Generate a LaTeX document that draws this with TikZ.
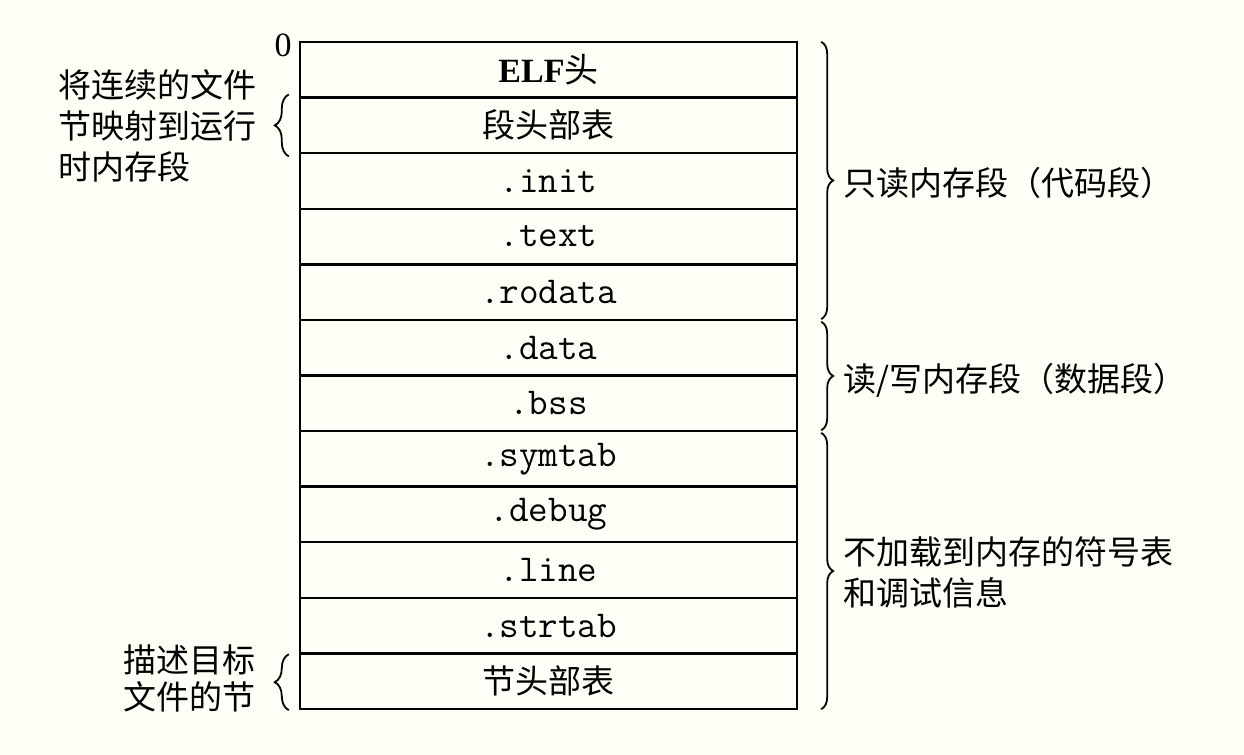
\documentclass[tikz,border=0pt]{standalone}
\usepackage{fontspec}
\newfontfamily\tms{Liberation Serif}
\newfontfamily\cjk{Noto Sans CJK SC}
\usetikzlibrary{decorations.pathreplacing}
\definecolor{bg}{RGB}{255,254,247}
\begin{document}
\begin{tikzpicture}[x=0.5pt,y=-0.5pt,
  rowbox/.style={draw, line width=1.2pt, minimum width=248.5pt, minimum height=27.79pt, inner sep=0pt, anchor=center},
  cn/.style={font=\cjk\fontsize{16.5}{20.5}\selectfont},
  mono/.style={font=\ttfamily\fontsize{19}{20}\selectfont},
  rbrace/.style={decorate, decoration={brace, amplitude=6pt}, line width=0.9pt},
  lbrace/.style={decorate, decoration={brace, amplitude=7pt}, line width=0.9pt},
  lbl/.style={cn, inner sep=0pt, align=left}]
\fill[bg] (0,0) rectangle (1244,755);
\useasboundingbox (0,0) rectangle (1244,755);
\def\rh{55.58}
\node[rowbox,font=\tms\fontsize{17}{20}\selectfont] (r1) at (548.5,{42+\rh*0.5}) {\textbf{ELF}{\cjk 头}};
\node[rowbox,cn] (r2) at (548.5,{42+\rh*1.5}) {段头部表};
\node[rowbox,mono] (r3) at (548.5,{42+\rh*2.5}) {.init};
\node[rowbox,mono] (r4) at (548.5,{42+\rh*3.5}) {.text};
\node[rowbox,mono] (r5) at (548.5,{42+\rh*4.5}) {.rodata};
\node[rowbox,mono] (r6) at (548.5,{42+\rh*5.5}) {.data};
\node[rowbox,mono] (r7) at (548.5,{42+\rh*6.5}) {.bss};
\node[rowbox,mono] (r8) at (548.5,{42+\rh*7.5}) {.symtab};
\node[rowbox,mono] (r9) at (548.5,{42+\rh*8.5}) {.debug};
\node[rowbox,mono] (r10) at (548.5,{42+\rh*9.5}) {.line};
\node[rowbox,mono] (r11) at (548.5,{42+\rh*10.5}) {.strtab};
\node[rowbox,cn] (r12) at (548.5,{42+\rh*11.5}) {节头部表};
\node[font=\tms\fontsize{17}{20}\selectfont, inner sep=0pt] (zero) at (283,45) {0};
% right braces
\draw[rbrace] ([xshift=11.5pt,yshift=-0.5pt]r1.north east) -- ([xshift=11.5pt,yshift=1pt]r5.south east) coordinate[midway] (b1);
\draw[rbrace] ([xshift=11.5pt,yshift=-1.5pt]r6.north east) -- ([xshift=11.5pt,yshift=1pt]r7.south east) coordinate[midway] (b2);
\draw[rbrace] ([xshift=11.5pt,yshift=-1.5pt]r8.north east) -- ([xshift=11.5pt,yshift=0.5pt]r12.south east) coordinate[midway] (b3);
\node[lbl, anchor=west] (t1) at (843,183) {只读内存段（代码段）};
\node[lbl, anchor=west] (t2) at (843,380) {读/写内存段（数据段）};
\node[lbl, anchor=west] (t3) at (843,572) {不加载到内存的符号表\\和调试信息};
% left braces
\draw[lbrace] ([xshift=-5pt,yshift=-1pt]r2.south west) -- ([xshift=-5pt,yshift=1pt]r2.north west);
\draw[lbrace] ([xshift=-5pt,yshift=0pt]r12.south west) -- ([xshift=-5pt,yshift=-1pt]r12.north west);
\node[lbl, anchor=east] (t4) at (257,126) {将连续的文件\\节映射到运行\\时内存段};
\node[lbl, anchor=east, font=\cjk\fontsize{16.5}{18.5}\selectfont] (t5) at (256,678) {描述目标\\文件的节};
\end{tikzpicture}
\end{document}
